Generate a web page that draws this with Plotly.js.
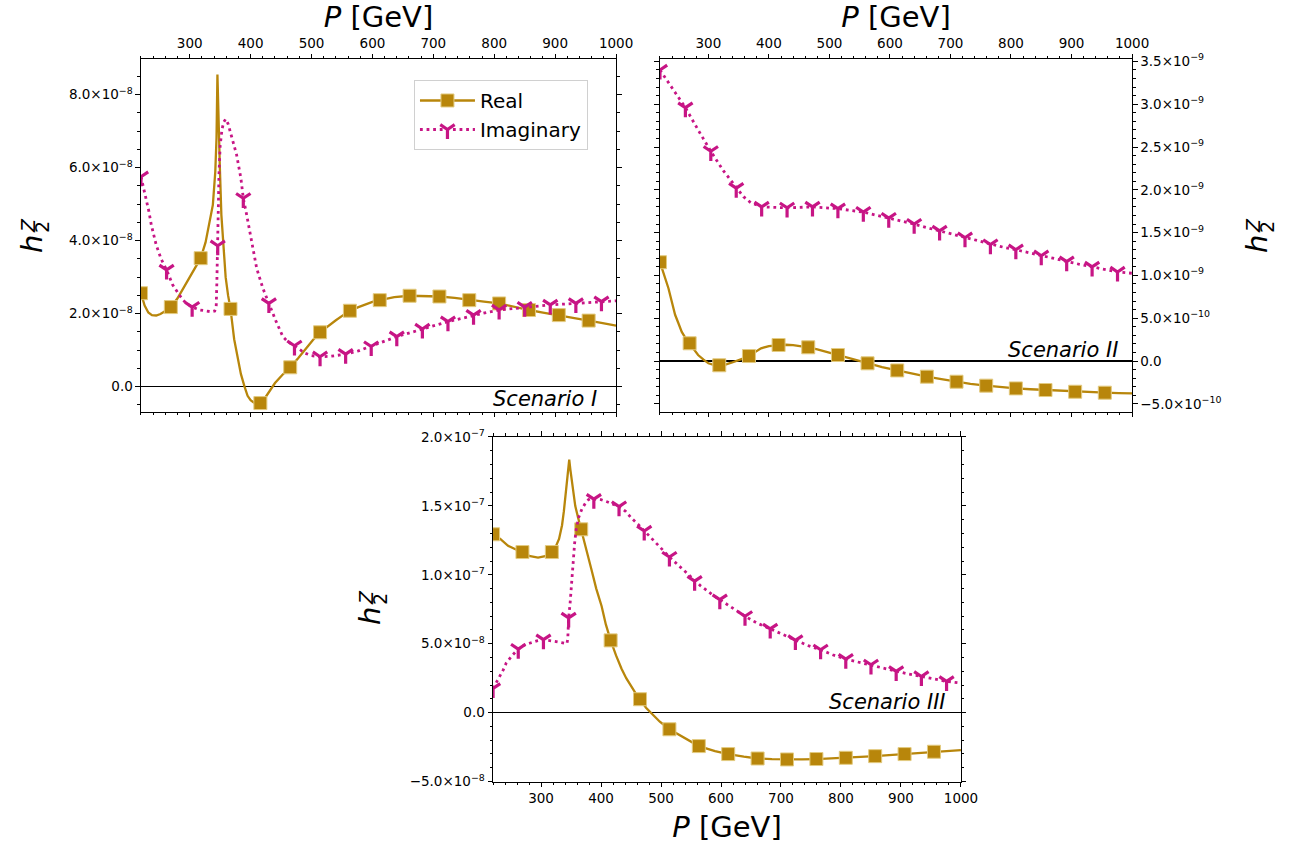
<!DOCTYPE html>
<html>
<head>
<meta charset="utf-8">
<script src="https://cdn.plot.ly/plotly-3.0.1.min.js"></script>
<style>html,body{margin:0;padding:0;background:#fff;}#chart{width:1303px;height:849px;}</style>
</head>
<body>
<div id="chart"></div>
<script>
// ---------------- DATA ----------------
// Scenario I  (values in units of 1e-8)
const s1RealP = [220,226,232,238,245,252,260,269,280,292,305,318,326,331,335,338,342,344,345.5,347,349.5,352,355,359,363,367,373,379,384,390,395,400,405,410,416,422,430,440,452,465,478,490,502,514,527,540,552,563,577,590,600,612,636,661,685,710,735,759,783,808,830,857,880,906,930,955,978,1000];
const s1RealV = [2.56,2.22,2.03,1.96,1.95,1.99,2.07,2.18,2.42,2.78,3.15,3.52,3.95,4.34,4.65,4.98,5.89,6.8,8.55,7.3,6.0,4.7,3.9,3.0,2.5,2.13,1.3,0.75,0.35,0.0,-0.25,-0.37,-0.43,-0.46,-0.45,-0.35,-0.15,0.1,0.32,0.53,0.78,1.03,1.27,1.49,1.66,1.82,1.96,2.08,2.18,2.26,2.32,2.37,2.45,2.49,2.49,2.47,2.43,2.37,2.33,2.28,2.19,2.10,2.03,1.96,1.88,1.81,1.74,1.67];
const s1RealMarkP = [220,269,318,367,416,465,514,563,612,661,710,759,808,857,906,955];
const s1RealMarkV = [2.56,2.18,3.52,2.13,-0.45,0.53,1.49,2.08,2.37,2.49,2.47,2.37,2.28,2.10,1.96,1.81];
const s1ImagP = [220,225,229,233,237,241,245,253,262,272,283,293,304,317,328,336,341,343.5,344.5,345.5,346,347,348,350,353,356,359,363,368,377,384,388,393,399,405,410,420,430,442,453,462,472,489,500,514,530,545,556,577,598,619,640,661,682,703,724,745,766,787,808,829,850,871,892,913,934,955,976,1000];
const s1ImagV = [5.75,5.4,5.15,4.8,4.43,4.15,3.88,3.5,3.2,2.79,2.51,2.3,2.18,2.1,2.06,2.05,2.07,2.2,2.8,3.4,3.86,4.9,5.8,6.6,7.05,7.25,7.33,7.2,6.9,6.35,5.71,5.16,4.75,4.25,3.7,3.24,2.7,2.28,1.78,1.37,1.22,1.12,0.92,0.85,0.82,0.83,0.86,0.89,0.98,1.10,1.24,1.37,1.48,1.58,1.68,1.78,1.87,1.96,2.03,2.10,2.14,2.18,2.21,2.24,2.26,2.28,2.30,2.33,2.35];
const s1ImagMarkP = [220,262,304,346,388,430,472,514,556,598,640,682,724,766,808,850,892,934,976];
const s1ImagMarkV = [5.75,3.2,2.18,3.86,5.16,2.28,1.12,0.82,0.89,1.10,1.37,1.58,1.78,1.96,2.10,2.18,2.24,2.28,2.33];

// Scenario II (values in units of 1e-10)
const s2RealP = [220,227,234,240,245,250,256,262,269,276,283,292,300,310,318,327,338,349,358,367,377,387,400,416,428,440,452,465,480,497,514,530,546,563,587,612,636,661,685,710,733,759,783,808,832,857,880,906,930,955,978,1000];
const s2RealV = [11.54,10.0,8.5,6.8,5.4,4.5,3.4,2.7,2.07,1.3,0.7,0.15,-0.27,-0.47,-0.5,-0.45,-0.2,0.05,0.3,0.58,1.05,1.48,1.75,1.87,1.9,1.85,1.75,1.60,1.35,1.02,0.70,0.35,0.05,-0.27,-0.72,-1.1,-1.5,-1.83,-2.13,-2.42,-2.67,-2.88,-3.06,-3.2,-3.3,-3.39,-3.5,-3.59,-3.65,-3.70,-3.75,-3.78];
const s2RealMarkP = [220,269,318,367,416,465,514,563,612,661,710,759,808,857,906,955];
const s2RealMarkV = [11.54,2.07,-0.5,0.58,1.87,1.60,0.70,-0.27,-1.1,-1.83,-2.42,-2.88,-3.2,-3.39,-3.59,-3.70];
const s2ImagP = [220,241,262,283,304,325,346,358,370,380,388,409,430,451,472,493,514,534,556,576,598,618,640,660,682,702,724,745,766,787,808,829,850,871,892,913,934,955,976,1000];
const s2ImagV = [34.0,31.8,29.6,27.0,24.5,22.2,20.2,19.2,18.5,18.2,18.0,17.95,17.9,17.95,18.0,17.9,17.8,17.6,17.4,17.05,16.7,16.35,16.0,15.6,15.2,14.8,14.4,14.0,13.6,13.3,13.0,12.65,12.3,11.95,11.6,11.3,11.0,10.7,10.4,10.25];
const s2ImagMarkP = [220,262,304,346,388,430,472,514,556,598,640,682,724,766,808,850,892,934,976];
const s2ImagMarkV = [34.0,29.6,24.5,20.2,18.0,17.9,18.0,17.8,17.4,16.7,16.0,15.2,14.4,13.6,13.0,12.3,11.6,11.0,10.4];

// Scenario III (values in units of 1e-8)
const s3RealP = [220,232,245,257,269,282,295,307,318,325,330,335,338,341,343,345,347,349,351.5,354,357,362,367,376,384,392,401,408,416,425,434,442,451,458,465,475,484,498,514,540,563,590,612,638,661,685,710,735,759,783,808,832,857,880,906,930,955,978,1000];
const s3RealV = [12.94,12.6,12.1,11.85,11.65,11.35,11.24,11.35,11.65,12.1,12.6,13.6,14.6,15.8,16.9,17.8,18.35,17.6,16.7,15.8,15.0,14.1,13.30,11.8,10.39,9.0,7.72,6.4,5.24,4.15,3.2,2.5,1.83,1.37,0.97,0.35,-0.05,-0.66,-1.21,-1.87,-2.43,-2.8,-3.01,-3.2,-3.33,-3.38,-3.40,-3.40,-3.37,-3.33,-3.28,-3.22,-3.16,-3.09,-3.01,-2.93,-2.84,-2.78,-2.72];
const s3RealMarkP = [220,269,318,367,416,465,514,563,612,661,710,759,808,857,906,955];
const s3RealMarkV = [12.94,11.65,11.65,13.30,5.24,0.97,-1.21,-2.43,-3.01,-3.33,-3.40,-3.37,-3.28,-3.16,-3.01,-2.84];
const s3ImagP = [220,226,231,237,242,252,262,272,282,293,304,314,323,334,343,344.5,345.5,346,348.5,351,353,356,358.6,363,368,374,379,384,388,400,410,420,430,441,451,462,472,483,493,504,514,525,535,546,556,566,577,587,598,608,619,629,640,660,682,702,724,744,766,786,808,828,850,870,892,912,934,954,976,1000];
const s3ImagV = [1.75,2.2,2.6,3.1,3.6,4.15,4.61,4.9,5.05,5.2,5.29,5.25,5.17,5.08,5.0,5.3,6.2,6.87,7.96,9.5,10.9,12.3,13.3,14.2,14.76,15.2,15.45,15.55,15.49,15.45,15.3,15.15,14.95,14.6,14.1,13.65,13.18,12.7,12.25,11.75,11.29,10.85,10.4,9.95,9.54,9.2,8.85,8.5,8.20,7.9,7.6,7.3,6.99,6.5,6.07,5.65,5.24,4.88,4.56,4.2,3.88,3.67,3.47,3.22,2.99,2.8,2.62,2.44,2.26,2.14];
const s3ImagMarkP = [220,262,304,346,388,430,472,514,556,598,640,682,724,766,808,850,892,934,976];
const s3ImagMarkV = [1.75,4.61,5.29,6.87,15.49,14.95,13.18,11.29,9.54,8.20,6.99,6.07,5.24,4.56,3.88,3.47,2.99,2.62,2.26];

// tick labels and texts
const xTickVals = [300,400,500,600,700,800,900,1000];
const xTickText = ['300','400','500','600','700','800','900','1000'];
const y1TickVals = [0,2e-8,4e-8,6e-8,8e-8];
const y1TickText = ['0.0','2.0×10<sup>−8</sup>','4.0×10<sup>−8</sup>','6.0×10<sup>−8</sup>','8.0×10<sup>−8</sup>'];
const y2TickVals = [-5e-10,0,5e-10,1e-9,1.5e-9,2e-9,2.5e-9,3e-9,3.5e-9];
const y2TickText = ['−5.0×10<sup>−10</sup>','0.0','5.0×10<sup>−10</sup>','1.0×10<sup>−9</sup>','1.5×10<sup>−9</sup>','2.0×10<sup>−9</sup>','2.5×10<sup>−9</sup>','3.0×10<sup>−9</sup>','3.5×10<sup>−9</sup>'];
const y3TickVals = [-5e-8,0,5e-8,1e-7,1.5e-7,2e-7];
const y3TickText = ['−5.0×10<sup>−8</sup>','0.0','5.0×10<sup>−8</sup>','1.0×10<sup>−7</sup>','1.5×10<sup>−7</sup>','2.0×10<sup>−7</sup>'];
const scenarioLabels = ['Scenario I','Scenario II','Scenario III'];
const seriesNames = ['Real','Imaginary'];

// ---------------- STYLE ----------------
const GOLD = '#B8860B';
const PINK = '#C71585';
const u8 = a => a.map(v => v * 1e-8);
const u10 = a => a.map(v => v * 1e-10);
const REAL_LINE = {color: GOLD, width: 2.3};
const IMAG_LINE = {color: PINK, width: 2.8, dash: '2.8px,3.8px'};
const REAL_MARK = {symbol: 'square', size: 13, color: GOLD, line: {color: '#e3cb80', width: 1}};
const IMAG_MARK = {symbol: 'y-down', size: 12, color: PINK, line: {color: PINK, width: 3.2}};

function panelTraces(xa, ya, rP, rV, rmP, rmV, iP, iV, imP, imV) {
  return [
    {x: rP, y: rV, xaxis: xa, yaxis: ya, mode: 'lines', type: 'scatter', showlegend: false, line: REAL_LINE, hoverinfo: 'skip'},
    {x: rmP, y: rmV, xaxis: xa, yaxis: ya, mode: 'markers', type: 'scatter', showlegend: false, marker: REAL_MARK},
    {x: iP, y: iV, xaxis: xa, yaxis: ya, mode: 'lines', type: 'scatter', showlegend: false, line: IMAG_LINE, hoverinfo: 'skip'},
    {x: imP, y: imV, xaxis: xa, yaxis: ya, mode: 'markers', type: 'scatter', showlegend: false, marker: IMAG_MARK}
  ];
}

const traces = [].concat(
  panelTraces('x', 'y', s1RealP, u8(s1RealV), s1RealMarkP, u8(s1RealMarkV), s1ImagP, u8(s1ImagV), s1ImagMarkP, u8(s1ImagMarkV)),
  panelTraces('x2', 'y2', s2RealP, u10(s2RealV), s2RealMarkP, u10(s2RealMarkV), s2ImagP, u10(s2ImagV), s2ImagMarkP, u10(s2ImagMarkV)),
  panelTraces('x3', 'y3', s3RealP, u8(s3RealV), s3RealMarkP, u8(s3RealMarkV), s3ImagP, u8(s3ImagV), s3ImagMarkP, u8(s3ImagMarkV)),
  [
    {x: [null], y: [null], xaxis: 'x', yaxis: 'y', name: seriesNames[0], mode: 'lines+markers', type: 'scatter', line: REAL_LINE, marker: REAL_MARK},
    {x: [null], y: [null], xaxis: 'x', yaxis: 'y', name: seriesNames[1], mode: 'lines+markers', type: 'scatter', line: IMAG_LINE, marker: IMAG_MARK}
  ]
);

const TICKFONT = {family: 'DejaVu Sans', size: 13.5, color: '#000'};
const TITLEFONT = {family: 'DejaVu Sans', size: 29, color: '#000'};
const pTitle = '<i>P</i> [GeV]';

function xAxis(domain, anchor, side, standoff) {
  return {
    domain: domain, anchor: anchor, side: side, range: [220, 1000],
    tickmode: 'array', tickvals: xTickVals, ticktext: xTickText,
    ticks: 'outside', ticklen: 4.5, tickwidth: 1, tickcolor: '#000',
    showline: true, linecolor: '#000', linewidth: 1, mirror: 'allticks',
    showgrid: false, zeroline: false, tickfont: TICKFONT,
    minor: {tick0: 0, dtick: 20, ticks: 'outside', ticklen: 2.5, tickwidth: 1, tickcolor: '#000', showgrid: false},
    title: {text: pTitle, font: TITLEFONT, standoff: standoff}
  };
}
function yAxis(domain, anchor, side, range, tv, tt, minorStep) {
  return {
    domain: domain, anchor: anchor, side: side, range: range,
    tickmode: 'array', tickvals: tv, ticktext: tt,
    ticks: 'outside', ticklen: 4.5, tickwidth: 1, tickcolor: '#000',
    showline: true, linecolor: '#000', linewidth: 1, mirror: 'allticks',
    showgrid: false, zeroline: true, zerolinecolor: '#000', zerolinewidth: 1.3,
    tickfont: TICKFONT,
    minor: {tick0: 0, dtick: minorStep, ticks: 'outside', ticklen: 2.5, tickwidth: 1, tickcolor: '#000', showgrid: false}
  };
}

// y-axis labels h_2^Z (subscript 2 and superscript Z stacked), pixel centres of the "h"
const hCentres = [[32, 244], [1257, 244], [370, 616]];
const W = 1303, H = 849;
const yTitleAnns = [];
hCentres.forEach(function (c) {
  const hx = c[0], hy = c[1];
  yTitleAnns.push({xref: 'paper', yref: 'paper', x: hx / W, y: 1 - hy / H, xanchor: 'center', yanchor: 'middle',
    showarrow: false, textangle: -90, text: '<i>h</i>', font: {family: 'DejaVu Sans', size: 29, color: '#000'}});
  yTitleAnns.push({xref: 'paper', yref: 'paper', x: (hx - 4) / W, y: 1 - (hy - 18) / H, xanchor: 'center', yanchor: 'middle',
    showarrow: false, textangle: -90, text: '<i>Z</i>', font: {family: 'DejaVu Sans', size: 19, color: '#000'}});
  yTitleAnns.push({xref: 'paper', yref: 'paper', x: (hx + 10) / W, y: 1 - (hy - 17) / H, xanchor: 'center', yanchor: 'middle',
    showarrow: false, textangle: -90, text: '2', font: {family: 'DejaVu Sans', size: 19, color: '#000'}});
});

const layout = {
  width: W, height: H,
  margin: {l: 0, r: 0, t: 0, b: 0},
  paper_bgcolor: '#fff', plot_bgcolor: '#fff',
  font: {family: 'DejaVu Sans', color: '#000'},
  showlegend: true,
  legend: {x: 0.3177, y: 0.9058, xanchor: 'left', yanchor: 'top', bgcolor: '#fff',
           bordercolor: '#d0d0d0', borderwidth: 1, font: {family: 'DejaVu Sans', size: 20, color: '#000'},
           itemwidth: 55},
  xaxis: xAxis([0.1082, 0.4728], 'y', 'top', 6),
  yaxis: yAxis([0.5151, 0.9305], 'x', 'left', [-0.685e-8, 8.975e-8], y1TickVals, y1TickText, 0.5e-8),
  xaxis2: xAxis([0.5065, 0.8688], 'y2', 'top', 6),
  yaxis2: yAxis([0.5151, 0.9305], 'x2', 'right', [-5.92e-10, 3.528e-9], y2TickVals, y2TickText, 1e-10),
  xaxis3: xAxis([0.3784, 0.7375], 'y3', 'bottom', 11),
  yaxis3: yAxis([0.0795, 0.4853], 'x3', 'left', [-5e-8, 2e-7], y3TickVals, y3TickText, 1e-8),
  annotations: [
    {xref: 'x', yref: 'y', x: 972, y: -0.34e-8, xanchor: 'right', yanchor: 'middle', showarrow: false,
     text: '<i>' + scenarioLabels[0] + '</i>', font: {family: 'DejaVu Sans', size: 21, color: '#000'}},
    {xref: 'x2', yref: 'y2', x: 980, y: 1.25e-10, xanchor: 'right', yanchor: 'middle', showarrow: false,
     text: '<i>' + scenarioLabels[1] + '</i>', font: {family: 'DejaVu Sans', size: 21, color: '#000'}},
    {xref: 'x3', yref: 'y3', x: 978, y: 0.74e-8, xanchor: 'right', yanchor: 'middle', showarrow: false,
     text: '<i>' + scenarioLabels[2] + '</i>', font: {family: 'DejaVu Sans', size: 21, color: '#000'}}
  ].concat(yTitleAnns)
};

Plotly.newPlot('chart', traces, layout, {displayModeBar: false, staticPlot: true});
</script>
</body>
</html>
